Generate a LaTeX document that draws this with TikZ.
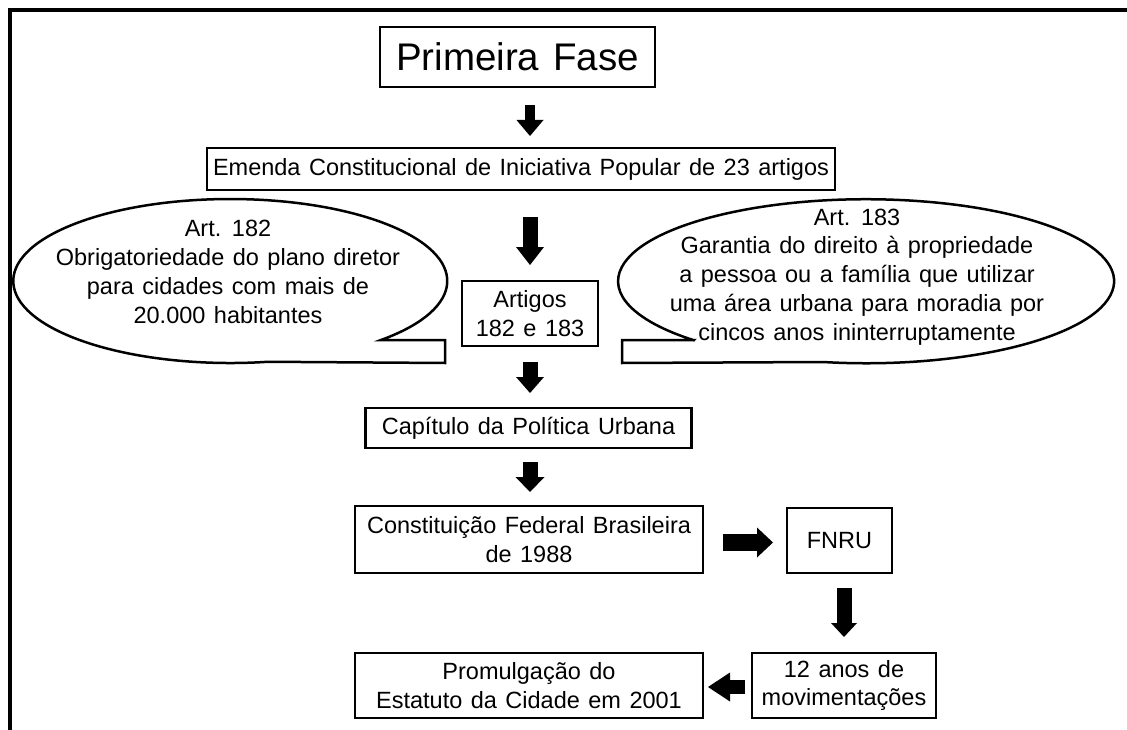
\documentclass[tikz,border=0pt]{standalone}
\usepackage{fontspec}
\setmainfont{Liberation Sans}[WordSpace=1.3]
\usetikzlibrary{arrows.meta}
\begin{document}
\begin{tikzpicture}[x=1pt,y=-1pt,
  txtfont/.style={font=\fontsize{23.5}{28.8}\selectfont},
  box/.style={draw, line width=2.5pt, inner sep=0pt, outer sep=0pt, align=center, txtfont},
  txt/.style={align=center, inner sep=0pt, txtfont},
  callout/.style={draw, line width=2.5pt, line join=miter},
  blk/.style n args={3}{line width=#1, -{Triangle[width=#2,length=#3,line width=0pt]}}
]
\useasboundingbox (0,0) rectangle (1127,730);
% outer frame
\draw[line width=3.2pt, line join=miter] (10,730) -- (10,10) -- (1127,10);

% boxes
\node[box, minimum width=275pt, minimum height=60pt, font=\fontsize{38.5}{44}\selectfont] (pf) at (517.5,57) {Primeira Fase};
\node[box, minimum width=628pt, minimum height=42pt] (em) at (521,169) {Emenda Constitucional de Iniciativa Popular de 23 artigos};
\node[box, minimum width=136pt, minimum height=65pt] (art) at (530,313.5) {Artigos\\182 e 183};
\node[box, minimum width=326pt, minimum height=40pt] (cap) at (528.5,428) {Capítulo da Política Urbana};
\node[box, minimum width=348pt, minimum height=67pt] (const) at (529,539.5) {Constituição Federal Brasileira\\de 1988};
\node[box, minimum width=105pt, minimum height=65pt] (fnru) at (839.5,540.5) {FNRU};
\node[box, minimum width=184pt, minimum height=65pt] (anos) at (844,685.5) {12 anos de\\movimentações};
\node[box, minimum width=348pt, minimum height=65pt] (prom) at (529,685.5) {Promulgação do\\Estatuto da Cidade em 2001};

% callouts
\draw[callout] (381,340) arc[start angle=-46, end angle=280, x radius=217pt, y radius=82pt] -- (445,363) -- (445,340) -- cycle;
\draw[callout] (694,340) -- (622,340) -- (622,363) -- (823,362) arc[start angle=-100, end angle=226, x radius=248pt, y radius=82pt] -- cycle;
\node[txt] (c182) at (228,272) {Art. 182\\Obrigatoriedade do plano diretor\\para cidades com mais de\\20.000 habitantes};
\node[txt] (c183) at (857,277) {Art. 183\\Garantia do direito à propriedade\\a pessoa ou a família que utilizar\\uma área urbana para moradia por\\cincos anos ininterruptamente};

% block arrows
\draw[blk={10pt}{27pt}{16pt}, shorten <=18pt, shorten >=12pt] (pf.south -| art.center) -- (em.north -| art.center);
\draw[blk={15pt}{28pt}{18pt}, shorten <=27pt, shorten >=16pt] (em.south -| art.center) -- (art.north);
\draw[blk={15pt}{28pt}{16pt}, shorten <=16pt, shorten >=15pt] (art.south) -- (cap.north -| art.center);
\draw[blk={15pt}{29pt}{15pt}, shorten <=14pt, shorten >=14pt] (cap.south -| art.center) -- (const.north -| art.center);
\draw[blk={17pt}{30pt}{16pt}, shorten <=20pt, shorten >=14pt] ([yshift=-3pt]const.east) -- ([yshift=-3pt]const.east -| fnru.west);
\draw[blk={15pt}{26pt}{14pt}, shorten <=15pt, shorten >=16pt] (fnru.south -| anos.north) -- (anos.north);
\draw[blk={14pt}{29pt}{22pt}, shorten <=7pt, shorten >=5pt] ([yshift=-1.5pt]anos.west) -- ([yshift=-1.5pt]anos.west -| prom.east);
\end{tikzpicture}
\end{document}
